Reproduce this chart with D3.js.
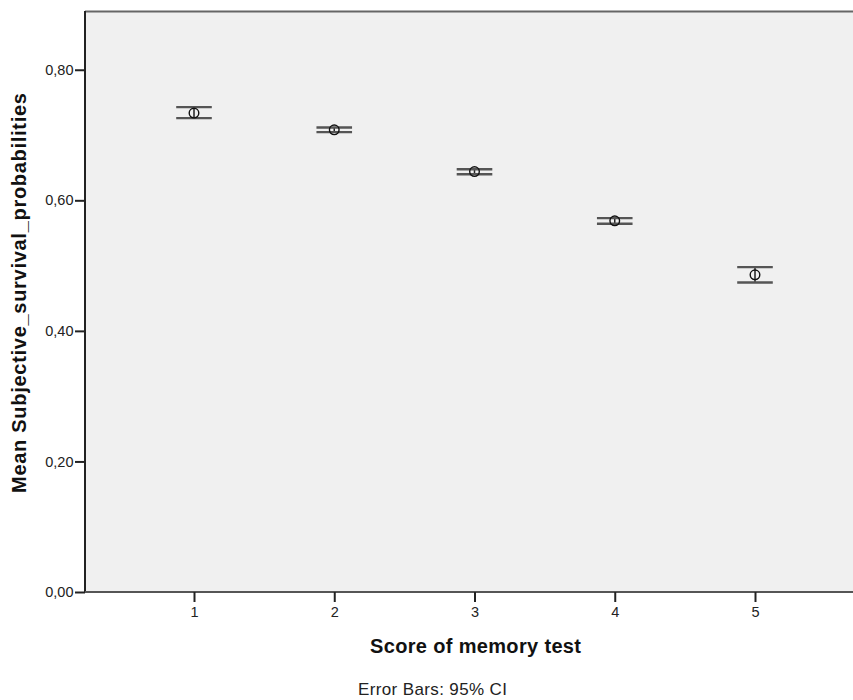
<!DOCTYPE html>
<html>
<head>
<meta charset="utf-8">
<script src="https://cdn.jsdelivr.net/npm/d3@7"></script>
<style>
  html, body { margin: 0; padding: 0; background: #ffffff; }
  svg { display: block; }
</style>
</head>
<body>
<svg id="chart" width="853" height="700"></svg>
<script>
// Memory test score groups and mean subjective survival probability with 95% CI
const scores = [1, 2, 3, 4, 5];
const means = [0.7336, 0.7080, 0.6440, 0.5686, 0.4858];
const ciLow = [0.7259, 0.7045, 0.6400, 0.5640, 0.4740];
const ciHigh = [0.7427, 0.7115, 0.6475, 0.5727, 0.4976];
const yTicks = [0, 0.2, 0.4, 0.6, 0.8];

const svg = d3.select("#chart");
const plotLeft = 85, plotTop = 11, plotBottom = 592, plotRight = 853;

const x = d3.scaleLinear().domain([1, 5]).range([194, 755]);
const y = d3.scaleLinear().domain([0, 0.89]).range([plotBottom, plotTop]);

const fmt = v => d3.format(".2f")(v).replace(".", ",");
const sans = "Liberation Sans, Arial, sans-serif";

// plot background
svg.append("rect")
  .attr("x", plotLeft).attr("y", plotTop)
  .attr("width", plotRight - plotLeft + 5).attr("height", plotBottom - plotTop)
  .attr("fill", "#f0f0f0");

// top frame line
svg.append("line")
  .attr("x1", plotLeft).attr("x2", plotRight + 5)
  .attr("y1", plotTop + 0.5).attr("y2", plotTop + 0.5)
  .attr("stroke", "#666").attr("stroke-width", 2);

// y axis
const yAxis = svg.append("g")
  .attr("transform", `translate(${plotLeft},0)`)
  .call(d3.axisLeft(y).tickValues(yTicks).tickFormat(fmt).tickSize(10).tickSizeOuter(0));
yAxis.select(".domain").attr("stroke", "#222").attr("stroke-width", 2)
  .attr("d", `M0,${plotTop}V${plotBottom}`);
yAxis.selectAll(".tick line").attr("stroke", "#222").attr("stroke-width", 2);
yAxis.selectAll(".tick text")
  .attr("font-family", sans)
  .attr("font-size", 14.5).attr("fill", "#222").attr("x", -11.5);

// x axis
const xAxis = svg.append("g")
  .attr("transform", `translate(0,${plotBottom})`)
  .call(d3.axisBottom(x).tickValues(scores).tickFormat(d3.format("d")).tickSize(10).tickSizeOuter(0));
xAxis.select(".domain").attr("stroke", "#555").attr("stroke-width", 2)
  .attr("d", `M${plotLeft},0H${plotRight + 5}`);
xAxis.selectAll(".tick line").attr("stroke", "#222").attr("stroke-width", 2);
xAxis.selectAll(".tick text")
  .attr("font-family", sans)
  .attr("font-size", 14.5).attr("fill", "#222")
  .attr("y", 25).attr("dy", 0);

// error bars with mean markers
const data = scores.map((s, i) => ({ s, m: means[i], lo: ciLow[i], hi: ciHigh[i] }));
const cap = 17.8;
const g = svg.append("g");
data.forEach(d => {
  const cx = x(d.s);
  g.append("line")
    .attr("x1", cx).attr("x2", cx)
    .attr("y1", y(d.hi)).attr("y2", y(d.lo))
    .attr("stroke", "#222").attr("stroke-width", 1.5);
  [d.hi, d.lo].forEach(v => {
    g.append("line")
      .attr("x1", cx - cap).attr("x2", cx + cap)
      .attr("y1", y(v)).attr("y2", y(v))
      .attr("stroke", "#555").attr("stroke-width", 2.4);
  });
  g.append("circle")
    .attr("cx", cx).attr("cy", y(d.m)).attr("r", 4.8)
    .attr("fill", "none").attr("stroke", "#111").attr("stroke-width", 1.4);
});

// axis titles
svg.append("text")
  .attr("transform", "translate(26,293) rotate(-90)")
  .attr("text-anchor", "middle")
  .attr("font-family", sans)
  .attr("font-weight", "bold").attr("font-size", 20).attr("fill", "#111")
  .attr("textLength", 400).attr("lengthAdjust", "spacing")
  .text("Mean Subjective_survival_probabilities");

svg.append("text")
  .attr("x", 475.5).attr("y", 653)
  .attr("text-anchor", "middle")
  .attr("font-family", sans)
  .attr("font-weight", "bold").attr("font-size", 20).attr("fill", "#111")
  .attr("textLength", 211).attr("lengthAdjust", "spacing")
  .text("Score of memory test");

svg.append("text")
  .attr("x", 358).attr("y", 695)
  .attr("font-family", sans)
  .attr("font-size", 17).attr("fill", "#222")
  .attr("textLength", 149).attr("lengthAdjust", "spacing")
  .text("Error Bars: 95% CI");
</script>
</body>
</html>
